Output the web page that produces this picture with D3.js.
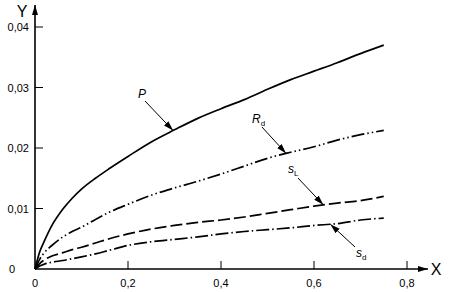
<!DOCTYPE html>
<html>
<head>
<meta charset="utf-8">
<script src="https://cdn.jsdelivr.net/npm/d3@7"></script>
<style>
  body { margin: 0; background: #fff; }
  svg { display: block; font-family: "Liberation Sans", Arial, sans-serif; }
</style>
</head>
<body>
<div id="chart"></div>
<script>
// values
const xs = [0, 0.01, 0.02, 0.035, 0.06, 0.08, 0.1, 0.13, 0.16, 0.2, 0.25, 0.3, 0.35, 0.4, 0.45, 0.5, 0.55, 0.6, 0.65, 0.7, 0.75];
const pVals  = [0, 0.0028, 0.0046, 0.007, 0.0099, 0.0117, 0.0132, 0.015, 0.0166, 0.0186, 0.021, 0.023, 0.0249, 0.0265, 0.028, 0.0297, 0.0313, 0.0327, 0.0341, 0.0356, 0.037];
const rdVals = [0, 0.0016, 0.0027, 0.0038, 0.0053, 0.0062, 0.0069, 0.0082, 0.0094, 0.0107, 0.0122, 0.0134, 0.0145, 0.0157, 0.017, 0.0183, 0.0193, 0.0202, 0.0213, 0.0222, 0.0229];
const slVals = [0, 0.0009, 0.0015, 0.0021, 0.0027, 0.0032, 0.0036, 0.0043, 0.005, 0.0058, 0.0066, 0.0072, 0.0077, 0.0081, 0.0086, 0.0092, 0.0098, 0.0104, 0.0109, 0.0113, 0.012];
const sdVals = [0, 0.0005, 0.0008, 0.0011, 0.0014, 0.0017, 0.002, 0.0025, 0.0031, 0.0039, 0.0045, 0.0049, 0.0053, 0.0058, 0.0062, 0.0065, 0.0068, 0.0072, 0.0075, 0.0081, 0.0084];
const xTicks = [0.2, 0.4, 0.6, 0.8];
const yTicks = [0.01, 0.02, 0.03, 0.04];

const width = 455, height = 292;
const x = d3.scaleLinear().domain([0, 0.8]).range([35, 407]);
const y = d3.scaleLinear().domain([0, 0.04]).range([269, 27]);
const fmt = d => d3.format('.2~f')(d).replace('.', ',');

const svg = d3.select('#chart').append('svg')
    .attr('width', width)
    .attr('height', height);

const defs = svg.append('defs');
defs.append('marker')
    .attr('id', 'head')
    .attr('viewBox', '0 0 10 10')
    .attr('refX', 10).attr('refY', 5)
    .attr('markerWidth', 10).attr('markerHeight', 10)
    .attr('markerUnits', 'userSpaceOnUse')
    .attr('orient', 'auto')
    .append('path').attr('d', 'M0,2 L10,5 L0,8 Z').attr('fill', '#000');
defs.append('marker')
    .attr('id', 'axhead')
    .attr('viewBox', '0 0 10 10')
    .attr('refX', 10).attr('refY', 5)
    .attr('markerWidth', 10).attr('markerHeight', 10)
    .attr('markerUnits', 'userSpaceOnUse')
    .attr('orient', 'auto')
    .append('path').attr('d', 'M0,2 L10,5 L0,8 Z').attr('fill', '#000');

// axes
svg.append('line')
    .attr('x1', x(0)).attr('y1', y(0)).attr('x2', 428).attr('y2', y(0))
    .attr('stroke', '#000').attr('stroke-width', 1.6)
    .attr('marker-end', 'url(#axhead)');
svg.append('line')
    .attr('x1', x(0)).attr('y1', y(0)).attr('x2', x(0)).attr('y2', 5)
    .attr('stroke', '#000').attr('stroke-width', 1.6)
    .attr('marker-end', 'url(#axhead)');

svg.selectAll('.xt').data(xTicks).join('line')
    .attr('x1', d => x(d)).attr('x2', d => x(d))
    .attr('y1', y(0)).attr('y2', y(0) - 8)
    .attr('stroke', '#000').attr('stroke-width', 1);
svg.selectAll('.yt').data(yTicks).join('line')
    .attr('x1', x(0)).attr('x2', x(0) + 8)
    .attr('y1', d => y(d)).attr('y2', d => y(d))
    .attr('stroke', '#000').attr('stroke-width', 1);

svg.selectAll('.xl').data([0].concat(xTicks)).join('text')
    .attr('x', d => x(d)).attr('y', 287)
    .attr('text-anchor', 'middle')
    .attr('font-size', 11)
    .text(fmt);
svg.selectAll('.yl').data(yTicks).join('text')
    .attr('x', 29).attr('y', d => y(d) + 4)
    .attr('text-anchor', 'end')
    .attr('font-size', 11)
    .text(fmt);
svg.append('text').attr('x', 12).attr('y', 273)
    .attr('text-anchor', 'middle').attr('font-size', 11).text('0');

svg.append('text').attr('x', 22).attr('y', 17)
    .attr('text-anchor', 'middle').attr('font-size', 16).text('Y');
svg.append('text').attr('x', 436).attr('y', 275)
    .attr('text-anchor', 'middle').attr('font-size', 16).text('X');

// curves
const line = d3.line()
    .x(d => x(d[0]))
    .y(d => y(d[1]))
    .curve(d3.curveMonotoneX);

const series = [
    { vals: pVals,  dash: null },
    { vals: rdVals, dash: '13,3,1.5,3,1.5,3' },
    { vals: slVals, dash: '12,4' },
    { vals: sdVals, dash: '13,3,1.5,3' }
];

series.forEach(s => {
    svg.append('path')
        .datum(xs.map((v, i) => [v, s.vals[i]]))
        .attr('d', line)
        .attr('fill', 'none')
        .attr('stroke', '#000')
        .attr('stroke-width', 1.7)
        .attr('stroke-dasharray', s.dash);
});

// labels with pointer arrows
const labels = [
    { t: 'P',  sub: '',  lx: 138, ly: 98,  from: [145, 101], at: [0.297, 'p'] },
    { t: 'R',  sub: 'd', lx: 252, ly: 123, from: [262, 127], at: [0.54, 'rd'] },
    { t: 's',  sub: 'L', lx: 288, ly: 173, from: [298, 178], at: [0.62, 'sl'] },
    { t: 's',  sub: 'd', lx: 356, ly: 257, from: [355, 247], at: [0.635, 'sd'] }
];
const lookup = { p: pVals, rd: rdVals, sl: slVals, sd: sdVals };
const valAt = (arr, xv) => {
    const i = d3.bisectLeft(xs, xv);
    const t = (xv - xs[i - 1]) / (xs[i] - xs[i - 1]);
    return arr[i - 1] + t * (arr[i] - arr[i - 1]);
};

labels.forEach(l => {
    const tx = x(l.at[0]);
    const ty = y(valAt(lookup[l.at[1]], l.at[0]));
    svg.append('line')
        .attr('x1', l.from[0]).attr('y1', l.from[1])
        .attr('x2', tx).attr('y2', ty)
        .attr('stroke', '#000').attr('stroke-width', 1)
        .attr('marker-end', 'url(#head)');
    const txt = svg.append('text')
        .attr('x', l.lx).attr('y', l.ly)
        .attr('font-size', 12)
        .attr('font-style', 'italic')
        .text(l.t);
    if (l.sub) {
        txt.append('tspan')
            .attr('font-size', 8)
            .attr('font-style', 'normal')
            .attr('dy', 3)
            .text(l.sub);
    }
});
</script>
</body>
</html>
